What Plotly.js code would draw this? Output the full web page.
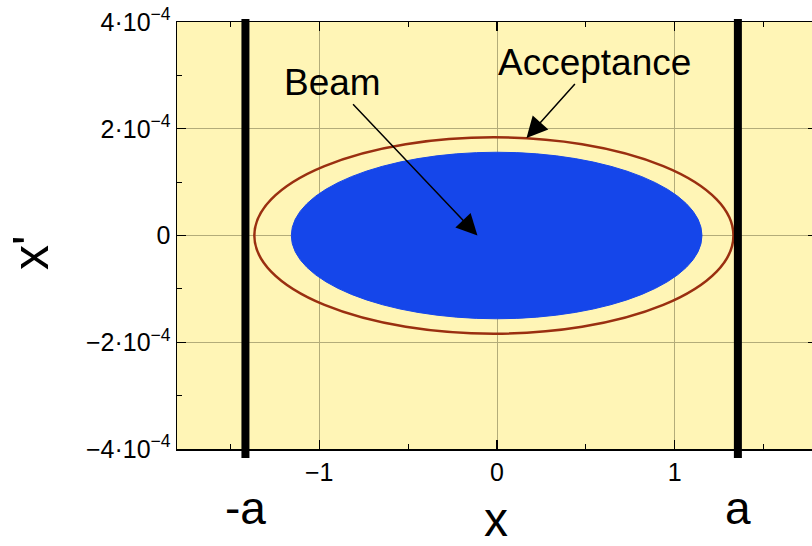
<!DOCTYPE html>
<html>
<head>
<meta charset="utf-8">
<script src="https://cdn.plot.ly/plotly-3.0.1.min.js"></script>
<style>
html, body { margin: 0; padding: 0; overflow: hidden; background: #ffffff; }
#chart { width: 830px; height: 546px; }
</style>
</head>
<body>
<div id="chart"></div>
<script>
// ---- data ----
const xTickVals = [-1, 0, 1];
const xTickText = ['\u22121', '0', '1'];
const yTickVals = [-4e-4, -2e-4, 0, 2e-4, 4e-4];
const yTickText = ['\u22124\u00b710<sup>\u22124</sup>', '\u22122\u00b710<sup>\u22124</sup>', '0',
                   '2\u00b710<sup>\u22124</sup>', '4\u00b710<sup>\u22124</sup>'];
const apertureX = [-1.415, 1.355];          // positions of the -a / a walls
const apertureLabels = ['-a', 'a'];
const beamX = [-1.157, 1.153];              // beam ellipse extent in x
const beamY = [-1.56e-4, 1.56e-4];          // beam ellipse extent in x'
const acceptanceX = [-1.365, 1.33];         // acceptance ellipse extent in x
const acceptanceY = [-1.84e-4, 1.84e-4];    // acceptance ellipse extent in x'
const labelNames = ['Beam', 'Acceptance'];
const labelPos = [[-0.927, 2.87e-4], [0.549, 3.25e-4]];
const arrowTip = [[-0.11, 0.0], [0.166, 1.826e-4]];

const FONT = 'Liberation Sans, Arial, Helvetica, sans-serif';
const gridColor = '#b3ac7a';

const shapes = [
  { type: 'circle', xref: 'x', yref: 'y', x0: acceptanceX[0], x1: acceptanceX[1],
    y0: acceptanceY[0], y1: acceptanceY[1], line: { color: '#9a2f10', width: 2.5 } },
  { type: 'circle', xref: 'x', yref: 'y', x0: beamX[0], x1: beamX[1],
    y0: beamY[0], y1: beamY[1], fillcolor: '#1546ea', line: { color: '#1546ea', width: 1 } }
];
apertureX.forEach(function (xa) {
  shapes.push({ type: 'line', xref: 'x', yref: 'paper', x0: xa, x1: xa, y0: -0.021, y1: 1.007,
                line: { color: '#000000', width: 8 } });
});

const annotations = [];
labelNames.forEach(function (name, i) {
  annotations.push({ x: arrowTip[i][0], y: arrowTip[i][1], xref: 'x', yref: 'y',
    ax: labelPos[i][0], ay: labelPos[i][1], axref: 'x', ayref: 'y', text: name,
    font: { family: FONT, size: 37, color: '#000' },
    showarrow: true, arrowhead: 2, arrowsize: 2.8, arrowwidth: 1.5, arrowcolor: '#000' });
});
apertureLabels.forEach(function (lab, i) {
  annotations.push({ x: apertureX[i], y: -0.138, xref: 'x', yref: 'paper', text: lab,
    showarrow: false, yanchor: 'middle', font: { family: FONT, size: 46, color: '#000' } });
});
annotations.push({ x: 0.498, y: -0.165, xref: 'paper', yref: 'paper', text: 'x',
  showarrow: false, yanchor: 'middle', font: { family: FONT, size: 48, color: '#000' } });
annotations.push({ x: -0.276, y: 0.46, xref: 'paper', yref: 'paper', text: "x'", textangle: -90,
  showarrow: false, font: { family: FONT, size: 50, color: '#000' } });

const layout = {
  width: 830, height: 546,
  margin: { l: 177, r: 13, t: 22, b: 97, pad: 0 },
  paper_bgcolor: '#ffffff', plot_bgcolor: '#fff5b6',
  showlegend: false,
  font: { family: FONT, color: '#000' },
  xaxis: {
    range: [-1.8, 1.8], tickmode: 'array', tickvals: xTickVals, ticktext: xTickText,
    ticks: 'inside', ticklen: 9, tickwidth: 1.2, tickcolor: '#000',
    showline: true, linecolor: '#000', linewidth: 1.5, mirror: 'ticks',
    showgrid: true, gridcolor: gridColor, gridwidth: 1, zeroline: false,
    tickfont: { family: FONT, size: 25, color: '#000' },
    minor: { tickmode: 'linear', tick0: 0, dtick: 0.5, ticks: 'inside', ticklen: 5, tickcolor: '#000', showgrid: false },
    fixedrange: true
  },
  yaxis: {
    range: [-4e-4, 4e-4], tickmode: 'array', tickvals: yTickVals, ticktext: yTickText,
    ticks: 'inside', ticklen: 9, tickwidth: 1.2, tickcolor: '#000',
    showline: true, linecolor: '#000', linewidth: 1.5, mirror: 'ticks',
    showgrid: true, gridcolor: gridColor, gridwidth: 1, zeroline: false,
    tickfont: { family: FONT, size: 25, color: '#000' },
    minor: { tickmode: 'linear', tick0: 0, dtick: 1e-4, ticks: 'inside', ticklen: 5, tickcolor: '#000', showgrid: false },
    fixedrange: true
  },
  shapes: shapes,
  annotations: annotations
};

Plotly.newPlot('chart', [{ x: [], y: [], type: 'scatter', mode: 'markers', hoverinfo: 'skip' }], layout,
  { displayModeBar: false, staticPlot: true });
</script>
</body>
</html>
